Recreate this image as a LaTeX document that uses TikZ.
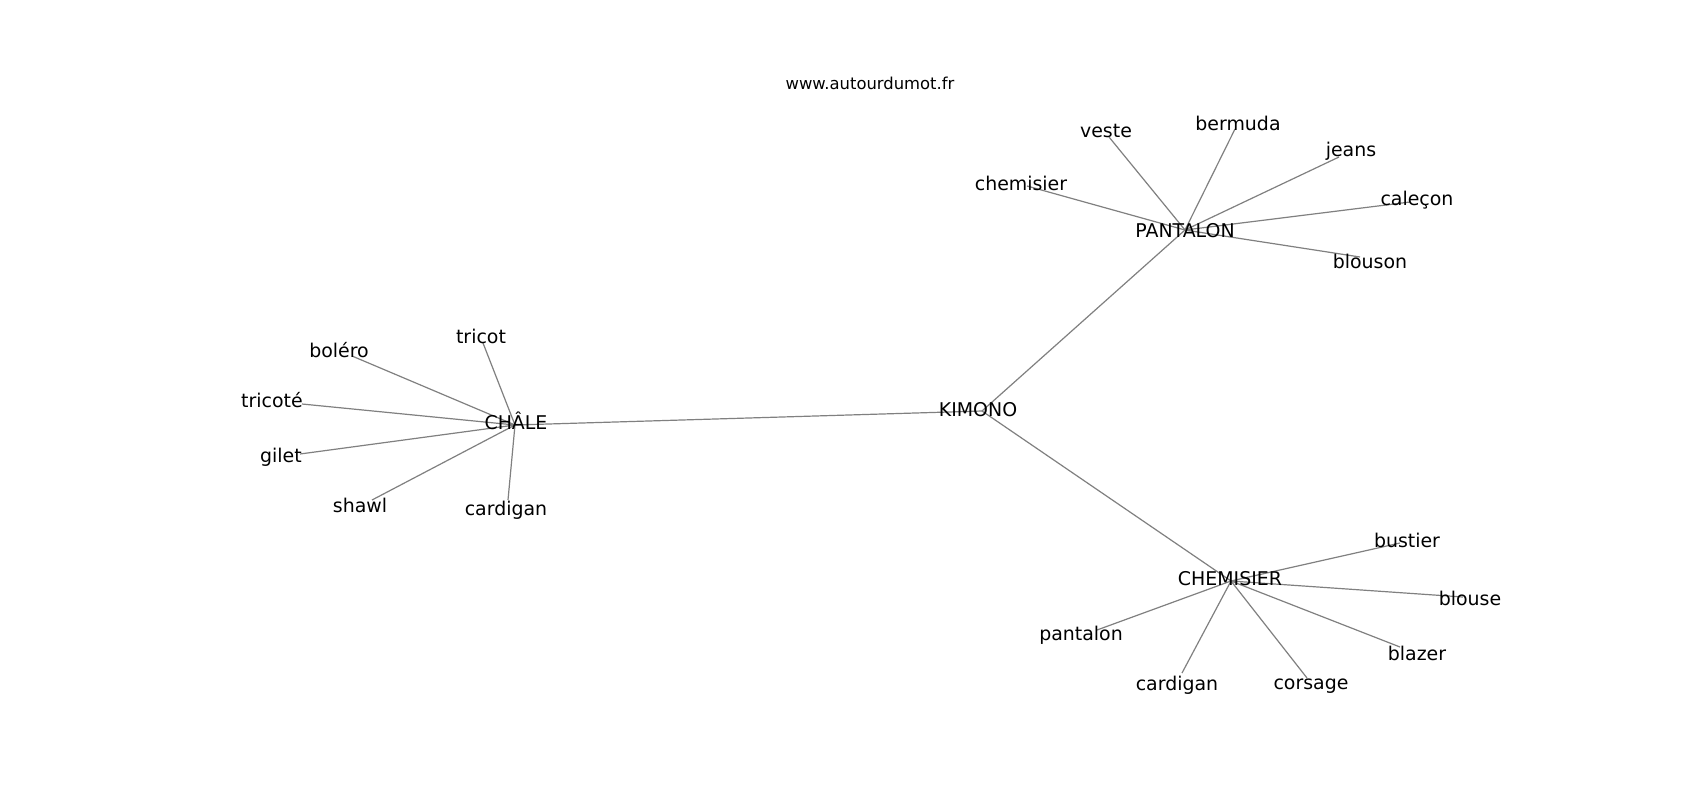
\documentclass[tikz,border=0pt]{standalone}
\usepackage{fontspec}
\setmainfont{DejaVu Sans}
\begin{document}
\begin{tikzpicture}[x=0.75pt,y=-0.75pt,
  lab/.style={inner sep=0pt,font=\fontsize{14.2}{16}\selectfont,text=black},
  ttl/.style={inner sep=0pt,font=\fontsize{12.3}{14}\selectfont,text=black},
  edge/.style={draw={rgb,255:red,128;green,128;blue,128},line width=0.9pt}]
\fill[white] (0,0) rectangle (1700,800);
\useasboundingbox (0,0) rectangle (1700,800);
% graph positions
\coordinate (kimono) at (982,411);
\coordinate (chale) at (515,425);
\coordinate (pant) at (1185,230);
\coordinate (chem) at (1231,581);
\coordinate (p-tricot) at (483,343);
\coordinate (p-bolero) at (352,356);
\coordinate (p-tricote) at (302,404);
\coordinate (p-gilet) at (300,454);
\coordinate (p-shawl) at (372,500);
\coordinate (p-cardA) at (508,500);
\coordinate (p-veste) at (1109,137);
\coordinate (p-bermuda) at (1235,129);
\coordinate (p-chemisier) at (1027,186);
\coordinate (p-jeans) at (1339,157);
\coordinate (p-calecon) at (1410,202);
\coordinate (p-blouson) at (1360,257);
\coordinate (p-bustier) at (1400,543);
\coordinate (p-blouse) at (1463,597);
\coordinate (p-blazer) at (1400,647);
\coordinate (p-corsage) at (1307,678);
\coordinate (p-cardB) at (1182,673);
\coordinate (p-pantalon) at (1097,630);
% edges
\draw[edge] (kimono) -- (chale);
\draw[edge] (kimono) -- (pant);
\draw[edge] (kimono) -- (chem);
\foreach \l in {tricot,bolero,tricote,gilet,shawl,cardA}
  \draw[edge] (chale) -- (p-\l);
\foreach \l in {veste,bermuda,chemisier,jeans,calecon,blouson}
  \draw[edge] (pant) -- (p-\l);
\foreach \l in {bustier,blouse,blazer,corsage,cardB,pantalon}
  \draw[edge] (chem) -- (p-\l);
% labels
\node[ttl] (title) at (870,83) {www.autourdumot.fr};
\node[lab] (l-kimono) at (978,410) {KIMONO};
\node[lab] (l-chale) at (516,421) {CHÂLE};
\node[lab] (l-pant) at (1185,231) {PANTALON};
\node[lab] (l-chem) at (1230,579) {CHEMISIER};
\node[lab] (l-tricot) at (481,336) {tricot};
\node[lab] (l-bolero) at (339,350) {boléro};
\node[lab] (l-tricote) at (272,400) {tricoté};
\node[lab] (l-gilet) at (281,457) {gilet};
\node[lab] (l-shawl) at (360,505) {shawl};
\node[lab] (l-cardA) at (506,510) {cardigan};
\node[lab] (l-veste) at (1106,131) {veste};
\node[lab] (l-bermuda) at (1238,123) {bermuda};
\node[lab] (l-chemisier) at (1021,183) {chemisier};
\node[lab] (l-jeans) at (1351,151) {jeans};
\node[lab] (l-calecon) at (1417,200) {caleçon};
\node[lab] (l-blouson) at (1370,261) {blouson};
\node[lab] (l-bustier) at (1407,540) {bustier};
\node[lab] (l-blouse) at (1470,598) {blouse};
\node[lab] (l-blazer) at (1417,653) {blazer};
\node[lab] (l-corsage) at (1311,686) {corsage};
\node[lab] (l-cardB) at (1177,685) {cardigan};
\node[lab] (l-pantalon) at (1081,635) {pantalon};
\end{tikzpicture}
\end{document}
